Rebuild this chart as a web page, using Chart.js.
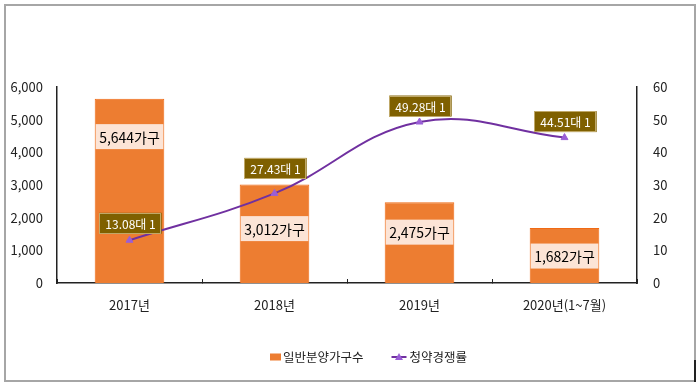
<!DOCTYPE html>
<html><head><meta charset="utf-8">
<script src="https://cdn.jsdelivr.net/npm/chart.js@4.4.1/dist/chart.umd.min.js"></script>
<style>html,body{margin:0;padding:0;background:#fff;}#wrap{width:700px;height:387px;}</style>
</head><body><div id="wrap"><canvas id="c" width="700" height="387"></canvas></div>
<script>
const categories = ['2017년', '2018년', '2019년', '2020년(1~7월)'];
const households = [5644, 3012, 2475, 1682];
const competition = [13.08, 27.43, 49.28, 44.51];
const householdLabels = ['5,644가구', '3,012가구', '2,475가구', '1,682가구'];
const competitionLabels = ['13.08대 1', '27.43대 1', '49.28대 1', '44.51대 1'];
const leftTickLabels = ['0', '1,000', '2,000', '3,000', '4,000', '5,000', '6,000'];
const rightTickLabels = ['0', '10', '20', '30', '40', '50', '60'];
const seriesNames = ['일반분양가구수', '청약경쟁률'];

const FONT = "'Noto Sans CJK KR', 'Noto Sans', sans-serif";
const BAR_COLOR = '#ed7d31';
const LINE_COLOR = '#7030a0';
const POINT_COLOR = '#9a5fd6';

const framePlugin = {
  id: 'frame',
  beforeDraw(chart) {
    const ctx = chart.ctx;
    ctx.save();
    ctx.fillStyle = '#fff';
    ctx.fillRect(0, 0, chart.width, chart.height);
    ctx.strokeStyle = '#a6a6a6';
    ctx.lineWidth = 2;
    ctx.strokeRect(5, 5, 690, 376);
    ctx.strokeStyle = '#222';
    ctx.beginPath();
    ctx.moveTo(695, 360); ctx.lineTo(695, 382);
    ctx.stroke();
    ctx.restore();
  }
};

const labelPlugin = {
  id: 'valueLabels',
  afterDatasetsDraw(chart, args, opts) {
    const ctx = chart.ctx;
    const barMeta = chart.getDatasetMeta(0);
    const lineMeta = chart.getDatasetMeta(1);
    ctx.save();
    ctx.textAlign = 'center';
    ctx.textBaseline = 'middle';
    ctx.font = '14px ' + FONT;
    barMeta.data.forEach((el, i) => {
      const cy = el.y + opts.barOffsets[i];
      const w = el.width - 2, h = 25;
      ctx.fillStyle = '#fce4d6';
      ctx.fillRect(el.x - w / 2, cy - h / 2, w, h);
      ctx.fillStyle = '#000';
      ctx.fillText(householdLabels[i], el.x, cy + 1);
    });
    ctx.font = '12px ' + FONT;
    lineMeta.data.forEach((pt, i) => {
      const tw = ctx.measureText(competitionLabels[i]).width;
      const w = tw + 12, h = 21;
      const cx = pt.x + 1, cy = pt.y - opts.lineOffsets[i];
      ctx.fillStyle = '#7f6000';
      ctx.fillRect(cx - w / 2, cy - h / 2, w, h);
      ctx.strokeStyle = '#bfa868';
      ctx.lineWidth = 1;
      ctx.strokeRect(Math.round(cx - w / 2) + 0.5, Math.round(cy - h / 2) + 0.5, Math.round(w) - 1, h - 1);
      ctx.fillStyle = '#fff';
      ctx.fillText(competitionLabels[i], cx, cy + 1);
    });
    ctx.restore();
  }
};

const legendPlugin = {
  id: 'customLegend',
  afterDraw(chart) {
    const ctx = chart.ctx;
    const ds = chart.data.datasets;
    ctx.save();
    ctx.font = '12.5px ' + FONT;
    ctx.textBaseline = 'middle';
    ctx.textAlign = 'left';
    const y = 357;
    let x = 270;
    ctx.fillStyle = ds[0].backgroundColor;
    ctx.fillRect(x, y - 3.5, 11, 7);
    x += 13;
    ctx.fillStyle = '#222';
    ctx.fillText(ds[0].label, x, y);
    x += ctx.measureText(ds[0].label).width + 28;
    ctx.strokeStyle = ds[1].borderColor;
    ctx.lineWidth = 2;
    ctx.beginPath();
    ctx.moveTo(x, y); ctx.lineTo(x + 15, y);
    ctx.stroke();
    ctx.fillStyle = ds[1].pointBackgroundColor;
    ctx.beginPath();
    ctx.moveTo(x + 7.5, y - 4); ctx.lineTo(x + 11.5, y + 3); ctx.lineTo(x + 3.5, y + 3);
    ctx.closePath(); ctx.fill();
    x += 18;
    ctx.fillStyle = '#222';
    ctx.fillText(ds[1].label, x, y);
    ctx.restore();
  }
};

new Chart(document.getElementById('c'), {
  data: {
    labels: categories,
    datasets: [
      {
        type: 'bar', label: seriesNames[0], data: households,
        backgroundColor: BAR_COLOR, borderColor: '#f06a15', borderWidth: 1,
        barPercentage: 0.48, categoryPercentage: 1, yAxisID: 'y', order: 2
      },
      {
        type: 'line', label: seriesNames[1], data: competition,
        borderColor: LINE_COLOR, borderWidth: 2, tension: 0.4, fill: false,
        pointStyle: 'triangle', pointRadius: 4, pointBackgroundColor: POINT_COLOR,
        pointBorderColor: POINT_COLOR, pointBorderWidth: 1, yAxisID: 'y1', order: 1
      }
    ]
  },
  options: {
    responsive: false, animation: false, devicePixelRatio: 1,
    layout: { padding: { top: 87, left: 0, right: 0, bottom: 64 } },
    plugins: {
      legend: { display: false }, tooltip: { enabled: false },
      valueLabels: { barOffsets: [38, 44, 30, 28], lineOffsets: [17, 25, 16, 16] }
    },
    scales: {
      x: {
        offset: true,
        grid: { display: true, drawOnChartArea: false, drawTicks: true, tickLength: -4, color: '#222', lineWidth: 1, offset: true },
        border: { display: true, color: '#222', width: 1.5 },
        ticks: { font: { family: FONT, size: 13 }, color: '#222', padding: 18, maxRotation: 0 },
        afterFit(s) { s.height = 40; }
      },
      y: {
        position: 'left', min: 0, max: 6000,
        grid: { display: false, drawTicks: false },
        border: { display: true, color: '#222', width: 1.5 },
        ticks: { stepSize: 1000, padding: 14, font: { family: FONT, size: 13 }, color: '#222',
          callback: (v, i) => leftTickLabels[i] },
        afterFit(s) { s.width = 57; }
      },
      y1: {
        position: 'right', min: 0, max: 60,
        grid: { display: false, drawTicks: false },
        border: { display: true, color: '#222', width: 1.5 },
        ticks: { stepSize: 10, padding: 16, font: { family: FONT, size: 13 }, color: '#222',
          callback: (v, i) => rightTickLabels[i] },
        afterFit(s) { s.width = 63; }
      }
    }
  },
  plugins: [framePlugin, labelPlugin, legendPlugin]
});
</script></body></html>
